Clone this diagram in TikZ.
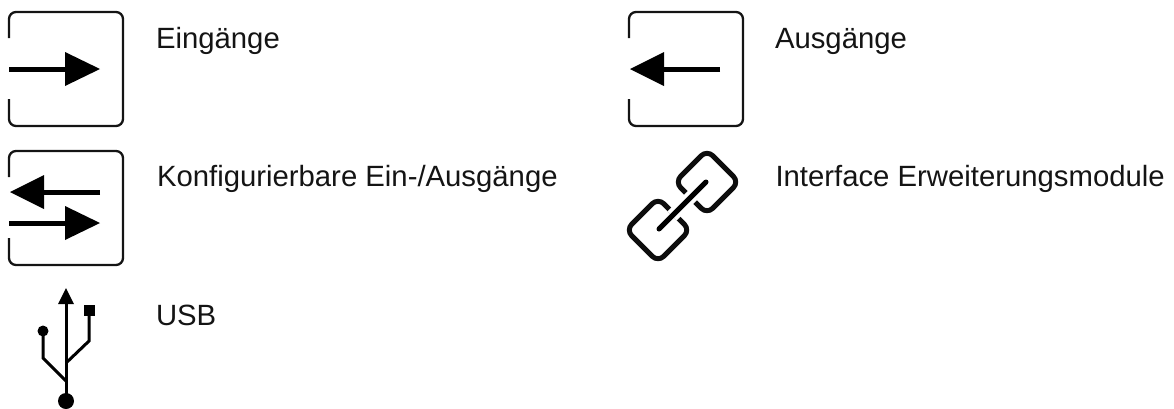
\documentclass[tikz,border=0pt]{standalone}
\usepackage{fontspec}
\setmainfont{Liberation Sans}
\tikzset{
  lbl/.style={anchor=base west,inner sep=0pt,outer sep=0pt,font=\fontsize{29.3}{34}\selectfont,text=black!92},
  frame/.style={line width=2.3pt,rounded corners=7pt,line cap=butt,draw=black!92},
  shaft/.style={line width=5pt,draw=black},
  head/.style={fill=black,draw=none},
  linkring/.style={line width=5pt,rounded corners=8pt,draw=black!95},
  usb/.style={line width=3pt,draw=black,line join=miter}
}
\newcommand{\portframe}[2]{% left x, top y
  \draw[frame] (#1,#2+26) -- (#1,#2) -- (#1+114,#2) -- (#1+114,#2+114) -- (#1,#2+114) -- (#1,#2+87);
}
\begin{document}
\begin{tikzpicture}[x=1pt,y=-1pt]
\useasboundingbox (0,0) rectangle (1174,408);
% Eingaenge
\portframe{9}{12}
\draw[shaft] (9,69) -- (66,69);
\fill[head] (65,52) -- (100,69) -- (65,86) -- cycle;
\node[lbl] (t1) at (156,48) {Eingänge};
% Ausgaenge
\portframe{629}{12}
\draw[shaft] (720,69) -- (663,69);
\fill[head] (664,52) -- (630,69) -- (664,86) -- cycle;
\node[lbl] (t2) at (775,48) {Ausgänge};
% Konfigurierbar
\portframe{9}{151}
\draw[shaft] (100,192) -- (43,192);
\fill[head] (44,175) -- (10,192) -- (44,209) -- cycle;
\draw[shaft] (9,223) -- (66,223);
\fill[head] (65,206) -- (100,223) -- (65,240) -- cycle;
\node[lbl] (t3) at (157,186) {Konfigurierbare Ein-/Ausgänge};
% Kette
\draw[linkring] (707,150) -- (739,182) -- (707,214) -- (675,182) -- cycle;
\draw[linkring] (658,198) -- (690,230) -- (658,262) -- (626,230) -- cycle;
\draw[line width=13pt,draw=white] (672,216) -- (693,195);
\draw[line width=5pt,line cap=round,draw=black] (659,229) -- (706,182);
\node[lbl] (t4) at (775.5,186) {Interface Erweiterungsmodule};
% USB
\draw[usb] (66,300) -- (66,396);
\fill[head] (66,288) -- (74,304) -- (58,304) -- cycle;
\fill[black] (66,401) circle (8);
\draw[usb] (43,331) -- (43,358) -- (66,381);
\fill[black] (43,331) circle (5.5);
\draw[usb] (89,310) -- (89,341) -- (66,363);
\fill[black] (84,305) rectangle (95,316);
\node[lbl] (t5) at (156,325) {USB};
\end{tikzpicture}
\end{document}
